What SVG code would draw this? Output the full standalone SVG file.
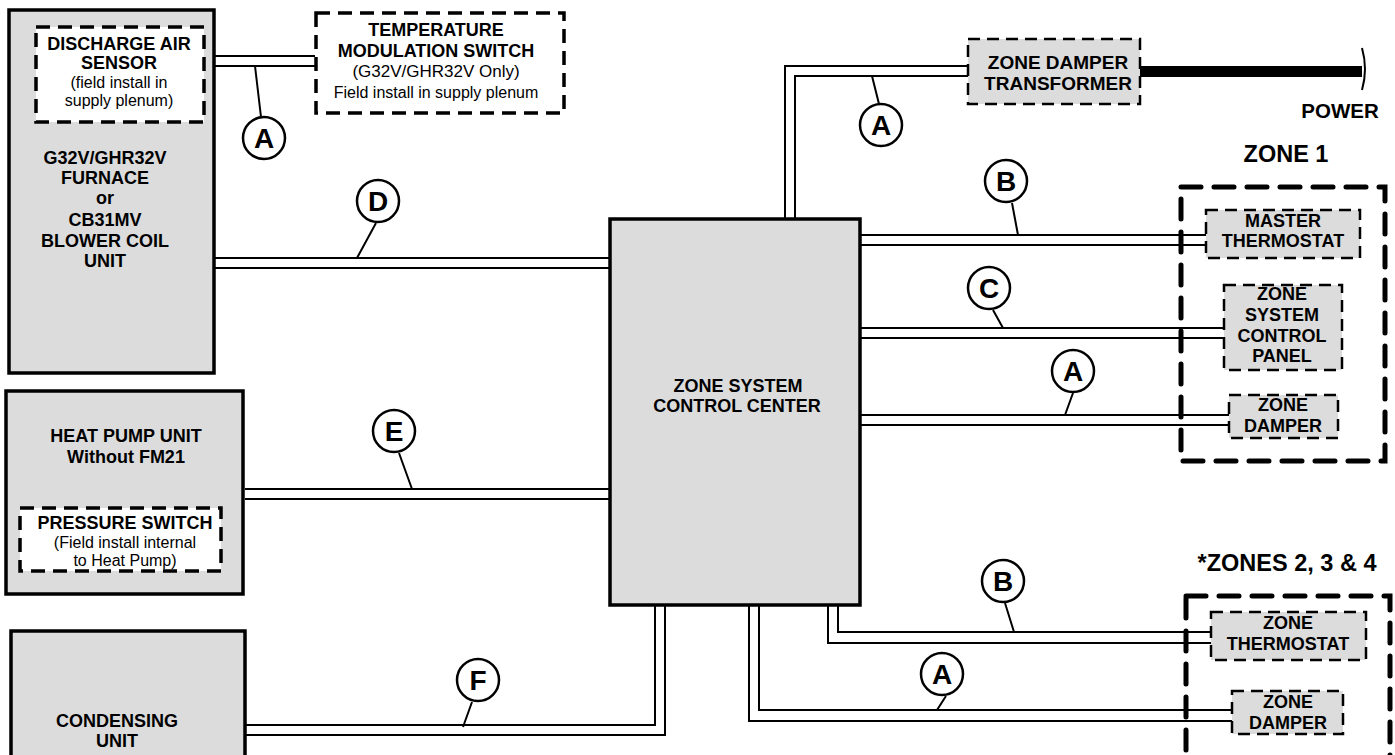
<svg xmlns="http://www.w3.org/2000/svg" width="1395" height="755" viewBox="0 0 1395 755">
<style>
text{font-family:"Liberation Sans",Arial,sans-serif;font-weight:bold;font-size:18px;text-anchor:middle;fill:#000}
.n{font-weight:normal;font-size:16px}
.z{font-size:23.500px}
.l{font-size:28px}
.box{fill:#dcdcdc;stroke:#000;stroke-width:3.5}
.d{stroke:#000;stroke-width:3.5;stroke-dasharray:14 8;fill:#fff}
.dg{stroke:#000;stroke-width:2.5;stroke-dasharray:12 7;fill:#dcdcdc}
.zone{stroke:#000;stroke-width:5;stroke-dasharray:20 13;fill:none;stroke-linecap:round}
.w{fill:none;stroke:#000;stroke-width:2}
.c{fill:#fff;stroke:#000;stroke-width:2.5}
</style>
<rect width="1395" height="755" fill="#fff"/>
<g id="zone1-frame"><rect class="zone" x="1181" y="187" width="204" height="274"/></g>
<g id="zones234-frame"><rect class="zone" x="1186" y="596" width="204" height="170"/></g>
<g id="connectors">
<path class="w" d="M214 56H315M214 66H315M255 66L261 117"/>
<path class="w" d="M214 258H610M214 268H610M357 258L376 223"/>
<path class="w" d="M245 489H610M245 499H610M412 489L399 453"/>
<path class="w" d="M245 725H655V605M245 735H665V605M463 727L472 702"/>
<path class="w" d="M785 219V66H968M795 219V76H968M872 76L879 104"/>
<path d="M1140 71.500H1362" stroke="#000" stroke-width="11" fill="none"/>
<path class="w" d="M1362 48Q1368 69 1362 90"/>
<path class="w" d="M860 235H1206M860 245H1206M1018 235L1012 203"/>
<path class="w" d="M860 328H1224M860 338H1224M1003 328L993 310"/>
<path class="w" d="M860 415H1229M860 425H1229M1065 415L1073 393"/>
<path class="w" d="M838 605V632H1211M828 605V643H1211M1014 632L1005 603"/>
<path class="w" d="M759 605V710H1232M749 605V721H1232M937 710L946 696"/>
</g>
<g id="furnace"><rect class="box" x="9" y="10" width="205" height="363"/>
<text x="105" y="164">G32V/GHR32V</text><text x="105" y="184">FURNACE</text><text x="105" y="204">or</text><text x="105" y="226">CB31MV</text><text x="105" y="247">BLOWER COIL</text><text x="105" y="267">UNIT</text></g>
<g id="discharge-air-sensor"><rect class="d" x="36" y="27" width="168" height="95"/>
<text x="119" y="50">DISCHARGE AIR</text><text x="119" y="69">SENSOR</text><text class="n" x="119" y="88">(field install in</text><text class="n" x="119" y="106">supply plenum)</text></g>
<g id="temperature-modulation-switch"><rect class="d" x="316" y="13" width="248" height="100"/>
<text x="436" y="36">TEMPERATURE</text><text x="436" y="57">MODULATION SWITCH</text><text class="n" x="436" y="77" style="font-size:17px">(G32V/GHR32V Only)</text><text class="n" x="436" y="98">Field install in supply plenum</text></g>
<g id="heat-pump"><rect class="box" x="6" y="391" width="237" height="203"/>
<text x="126" y="442">HEAT PUMP UNIT</text><text x="126" y="463">Without FM21</text></g>
<g id="pressure-switch"><rect class="d" x="20" y="508" width="201" height="63"/>
<text x="125" y="529">PRESSURE SWITCH</text><text class="n" x="125" y="548">(Field install internal</text><text class="n" x="125" y="566">to Heat Pump)</text></g>
<g id="condensing-unit"><rect class="box" x="11" y="631" width="234" height="130"/>
<text x="117" y="727">CONDENSING</text><text x="117" y="747">UNIT</text></g>
<g id="control-center"><rect class="box" x="610" y="219" width="250" height="386"/>
<text x="738" y="392">ZONE SYSTEM</text><text x="737" y="412">CONTROL CENTER</text></g>
<g id="transformer"><rect class="dg" x="968" y="39" width="172" height="65"/>
<text x="1058" y="69" style="font-size:19px">ZONE DAMPER</text><text x="1058" y="90" style="font-size:19px">TRANSFORMER</text></g>
<g id="power-label"><text x="1340" y="118" style="font-size:20.500px">POWER</text></g>
<g id="zone1-label"><text class="z" x="1286" y="162">ZONE 1</text></g>
<g id="zones234-label"><text class="z" x="1287" y="571">*ZONES 2, 3 &amp; 4</text></g>
<g id="master-thermostat"><rect class="dg" x="1206" y="210" width="154" height="48"/>
<text x="1283" y="227">MASTER</text><text x="1283" y="247">THERMOSTAT</text></g>
<g id="control-panel"><rect class="dg" x="1224" y="285" width="118" height="85"/>
<text x="1282" y="300">ZONE</text><text x="1282" y="321">SYSTEM</text><text x="1282" y="342">CONTROL</text><text x="1282" y="362">PANEL</text></g>
<g id="zone-damper-1"><rect class="dg" x="1229" y="395" width="109" height="43"/>
<text x="1283" y="411">ZONE</text><text x="1283" y="432">DAMPER</text></g>
<g id="zone-thermostat"><rect class="dg" x="1211" y="612" width="155" height="48"/>
<text x="1288" y="629">ZONE</text><text x="1288" y="650">THERMOSTAT</text></g>
<g id="zone-damper-2"><rect class="dg" x="1232" y="691" width="111" height="43"/>
<text x="1288" y="708">ZONE</text><text x="1288" y="729">DAMPER</text></g>
<g id="bubble-a1"><ellipse class="c" cx="264" cy="138" rx="21" ry="21"/><text class="l" x="264" y="148">A</text></g>
<g id="bubble-d"><ellipse class="c" cx="378" cy="201" rx="21" ry="21"/><text class="l" x="378" y="211">D</text></g>
<g id="bubble-e"><ellipse class="c" cx="394" cy="431" rx="21" ry="21"/><text class="l" x="394" y="441">E</text></g>
<g id="bubble-f"><ellipse class="c" cx="478" cy="680" rx="21" ry="21"/><text class="l" x="478" y="690">F</text></g>
<g id="bubble-a2"><ellipse class="c" cx="881" cy="125" rx="21" ry="21"/><text class="l" x="881" y="135">A</text></g>
<g id="bubble-b1"><ellipse class="c" cx="1006" cy="181" rx="21" ry="21"/><text class="l" x="1006" y="191">B</text></g>
<g id="bubble-c"><ellipse class="c" cx="989" cy="288" rx="21" ry="21"/><text class="l" x="989" y="298">C</text></g>
<g id="bubble-a3"><ellipse class="c" cx="1073" cy="371" rx="21" ry="21"/><text class="l" x="1073" y="381">A</text></g>
<g id="bubble-b2"><ellipse class="c" cx="1003" cy="581" rx="21" ry="21"/><text class="l" x="1003" y="591">B</text></g>
<g id="bubble-a4"><ellipse class="c" cx="942" cy="674" rx="21" ry="21"/><text class="l" x="942" y="684">A</text></g>
</svg>
